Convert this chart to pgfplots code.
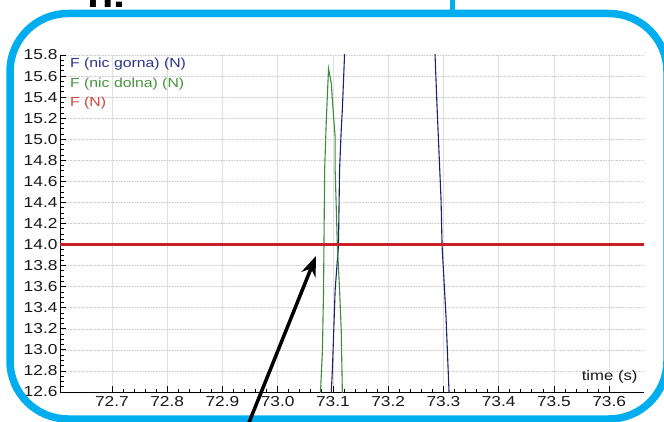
\documentclass[border=0pt]{standalone}
\usepackage{fontspec}
\setmainfont[FakeStretch=1.2]{Liberation Sans}
\usepackage{pgfplots}
\pgfplotsset{compat=1.18}
\usetikzlibrary{arrows.meta}
\definecolor{frameblue}{RGB}{0,174,239}
\definecolor{gorna}{RGB}{30,32,110}
\definecolor{dolna}{RGB}{60,140,60}
\definecolor{fred}{RGB}{200,30,40}
\definecolor{gornatext}{RGB}{45,50,140}
\definecolor{dolnatext}{RGB}{70,150,60}
\definecolor{fredtext}{RGB}{205,70,60}
\begin{document}
\begin{tikzpicture}[x=1bp,y=1bp]
\useasboundingbox (0,0) rectangle (664,421);
\clip (0,0) rectangle (664,421);
\fill[white] (0,0) rectangle (664,421);
\begin{axis}[
  at={(60bp,29bp)}, anchor=south west,
  scale only axis, width=584bp, height=337bp,
  xmin=72.606, xmax=73.663, ymin=12.6, ymax=15.8,
  xtick={72.7,72.8,72.9,73.0,73.1,73.2,73.3,73.4,73.5,73.6},
  xticklabels={72.7,72.8,72.9,73.0,73.1,73.2,73.3,73.4,73.5,73.6},
  ytick={12.6,12.8,13.0,13.2,13.4,13.6,13.8,14.0,14.2,14.4,14.6,14.8,15.0,15.2,15.4,15.6,15.8},
  yticklabels={12.6,12.8,13.0,13.2,13.4,13.6,13.8,14.0,14.2,14.4,14.6,14.8,15.0,15.2,15.4,15.6,15.8},
  minor x tick num=4, minor y tick num=3,
  axis x line*=bottom, axis y line*=left,
  axis line style={black, line width=0.9bp},
  tick align=inside, tick style={black, line width=0.8bp},
  major tick length=6bp, minor tick length=3.5bp,
  grid=major,
  x grid style={gray!25, line width=0.7bp},
  y grid style={gray!40, line width=0.6bp, densely dotted},
  tick label style={font=\fontsize{14.5}{14.5}\selectfont, text=black!90},
  yticklabel style={xshift=1bp},
  xticklabel style={yshift=-1bp},
  xlabel={time (s)},
  xlabel style={at={(axis description cs:0.995,0.015)}, anchor=south east, font=\fontsize{14}{14}\selectfont, text=black!90},
  legend image code/.code={},
  legend cell align=left,
  legend style={at={(axis description cs:0,1)}, anchor=north west, draw=none, fill=none,
    font=\fontsize{13.2}{13.2}\selectfont, row sep=4.5bp, xshift=5bp, yshift=1bp},
  clip=true,
]
\addplot[color=gorna, line width=1.1bp] coordinates {
(73.096,12.50) (73.097,12.60) (73.099,12.81) (73.104,13.57) (73.110,13.99)
(73.112,14.71) (73.115,15.09) (73.117,15.28) (73.121,15.80) (73.124,16.40)
(73.130,17.50) (73.280,17.50)
(73.2848,15.80) (73.2884,15.31) (73.2957,14.42) (73.2975,13.99) (73.3047,13.31)
(73.3101,12.60) (73.311,12.50)
};
\addlegendentry{\textcolor{gornatext}{F (nic gorna) (N)}}
\addplot[color=dolna, line width=1.1bp] coordinates {
(73.077,12.50) (73.0775,12.60) (73.081,13.00) (73.083,13.57) (73.085,14.71)
(73.088,15.18) (73.092,15.67) (73.097,15.53) (73.099,15.37) (73.104,15.02)
(73.104,14.71) (73.108,13.99) (73.112,13.57) (73.115,13.19) (73.117,12.60)
(73.118,12.50)
};
\addlegendentry{\textcolor{dolnatext}{F (nic dolna) (N)}}
\addplot[color=fred, line width=3.2bp] coordinates {
(72.606,14.0) (73.663,14.0)
};
\addlegendentry{\textcolor{fredtext}{F (N)}}
\end{axis}
% frame and annotations
\draw[frameblue, line width=7.5bp, rounded corners=58bp] (10,2) rectangle (667,407.5);
\draw[frameblue, line width=5bp] (452.5,407.5) -- (452.5,425);
\node[anchor=base west, inner sep=0pt, font=\bfseries\fontsize{36}{36}\selectfont] at (87,413) {n.};
\draw[black, line width=3.5bp, -{Stealth[length=20bp,width=15bp]}] (248,-4) -- (316,165);
\end{tikzpicture}
\end{document}
